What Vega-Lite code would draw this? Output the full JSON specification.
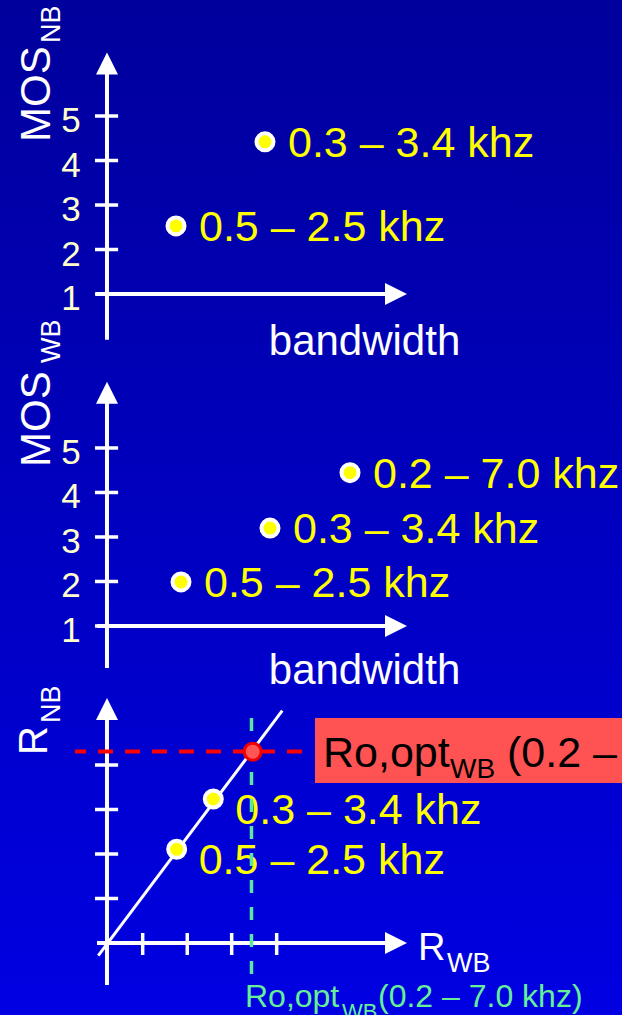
{
  "$schema": "https://vega.github.io/schema/vega-lite/v6.json",
  "width": 622,
  "height": 1015,
  "autosize": {"type": "none"},
  "padding": 0,
  "config": {"view": {"stroke": null}, "font": "Liberation Sans"},
  "resolve": {"scale": {"y": "independent"}},
  "layer": [
    {
      "data": {"values": [{}]},
      "mark": {"type": "rect", "fill": {"gradient": "linear", "x1": 0, "y1": 0, "x2": 0, "y2": 1, "stops": [{"offset": 0, "color": "#00009C"}, {"offset": 1, "color": "#0000E2"}]}},
      "encoding": {"x": {"value": 0}, "x2": {"value": "width"}, "y": {"value": 0}, "y2": {"value": "height"}}
    },
    {
      "layer": [
        {
          "data": {"values": [{"x": 0, "x2": 0, "y": -0.03, "y2": 6.0}, {"x": -0.25, "x2": 6.3, "y": 1, "y2": 1}]},
          "mark": {"type": "rule", "color": "white", "strokeWidth": 4},
          "encoding": {
            "x": {"field": "x", "type": "quantitative", "scale": {"domain": [-2.404, 11.573], "nice": false, "zero": false}, "axis": null},
            "x2": {"field": "x2"},
            "y": {"field": "y", "type": "quantitative", "scale": {"domain": [-15.202, 7.607], "nice": false, "zero": false}, "axis": null},
            "y2": {"field": "y2"}
          }
        },
        {
          "data": {"values": [{"x": -0.27, "x2": 0.25, "y": 1}, {"x": -0.27, "x2": 0.25, "y": 2}, {"x": -0.27, "x2": 0.25, "y": 3}, {"x": -0.27, "x2": 0.25, "y": 4}, {"x": -0.27, "x2": 0.25, "y": 5}]},
          "mark": {"type": "rule", "color": "white", "strokeWidth": 3.5},
          "encoding": {
            "x": {"field": "x", "type": "quantitative", "scale": {"domain": [-2.404, 11.573], "nice": false, "zero": false}, "axis": null},
            "x2": {"field": "x2"},
            "y": {"field": "y", "type": "quantitative", "scale": {"domain": [-15.202, 7.607], "nice": false, "zero": false}, "axis": null}
          }
        },
        {
          "data": {"values": [{"x": 0, "y": 6.18, "dir": "up"}, {"x": 6.494, "y": 1, "dir": "right"}]},
          "mark": {"type": "point", "filled": true, "fill": "white", "opacity": 1, "size": 484, "strokeWidth": 0},
          "encoding": {
            "x": {"field": "x", "type": "quantitative", "scale": {"domain": [-2.404, 11.573], "nice": false, "zero": false}, "axis": null},
            "y": {"field": "y", "type": "quantitative", "scale": {"domain": [-15.202, 7.607], "nice": false, "zero": false}, "axis": null},
            "shape": {"field": "dir", "type": "nominal", "scale": {"domain": ["up", "right"], "range": ["M0,-1L-1,1L1,1Z", "M1,0L-1,-1L-1,1Z"]}, "legend": null}
          }
        },
        {
          "data": {"values": [{"x": -0.809, "y": 1, "label": "1"}, {"x": -0.809, "y": 2, "label": "2"}, {"x": -0.809, "y": 3, "label": "3"}, {"x": -0.809, "y": 4, "label": "4"}, {"x": -0.809, "y": 5, "label": "5"}]},
          "mark": {"type": "text", "fontSize": 35, "color": "#FFFFCC", "align": "center", "baseline": "alphabetic", "dy": 16},
          "encoding": {
            "x": {"field": "x", "type": "quantitative", "scale": {"domain": [-2.404, 11.573], "nice": false, "zero": false}, "axis": null},
            "y": {"field": "y", "type": "quantitative", "scale": {"domain": [-15.202, 7.607], "nice": false, "zero": false}, "axis": null},
            "text": {"field": "label"}
          }
        },
        {
          "data": {"values": [{"x": 1.551, "y": 2.53, "label": "0.5 – 2.5 khz"}, {"x": 3.551, "y": 4.42, "label": "0.3 – 3.4 khz"}]},
          "layer": [
            {"mark": {"type": "circle", "fill": "#FFFF00", "stroke": "white", "strokeWidth": 4, "size": 289, "opacity": 1}},
            {"mark": {"type": "text", "fontSize": 43, "color": "#FFFF00", "align": "left", "baseline": "alphabetic", "dx": 23, "dy": 15}, "encoding": {"text": {"field": "label"}}}
          ],
          "encoding": {
            "x": {"field": "x", "type": "quantitative", "scale": {"domain": [-2.404, 11.573], "nice": false, "zero": false}, "axis": null},
            "y": {"field": "y", "type": "quantitative", "scale": {"domain": [-15.202, 7.607], "nice": false, "zero": false}, "axis": null}
          }
        },
        {
          "data": {"values": [{"x": 5.787, "y": -0.371, "label": "bandwidth"}]},
          "mark": {"type": "text", "fontSize": 42, "color": "white", "align": "center", "baseline": "alphabetic"},
          "encoding": {
            "x": {"field": "x", "type": "quantitative", "scale": {"domain": [-2.404, 11.573], "nice": false, "zero": false}, "axis": null},
            "y": {"field": "y", "type": "quantitative", "scale": {"domain": [-15.202, 7.607], "nice": false, "zero": false}, "axis": null},
            "text": {"field": "label"}
          }
        },
        {
          "data": {"values": [{"x": -1.281, "y": 4.416, "label": "MOS"}]},
          "mark": {"type": "text", "fontSize": 42, "color": "white", "align": "left", "baseline": "alphabetic", "angle": 270},
          "encoding": {
            "x": {"field": "x", "type": "quantitative", "scale": {"domain": [-2.404, 11.573], "nice": false, "zero": false}, "axis": null},
            "y": {"field": "y", "type": "quantitative", "scale": {"domain": [-15.202, 7.607], "nice": false, "zero": false}, "axis": null},
            "text": {"field": "label"}
          }
        },
        {
          "data": {"values": [{"x": -1.056, "y": 6.641, "label": "NB"}]},
          "mark": {"type": "text", "fontSize": 27, "color": "white", "align": "left", "baseline": "alphabetic", "angle": 270},
          "encoding": {
            "x": {"field": "x", "type": "quantitative", "scale": {"domain": [-2.404, 11.573], "nice": false, "zero": false}, "axis": null},
            "y": {"field": "y", "type": "quantitative", "scale": {"domain": [-15.202, 7.607], "nice": false, "zero": false}, "axis": null},
            "text": {"field": "label"}
          }
        }
      ]
    },
    {
      "layer": [
        {
          "data": {"values": [{"x": 0, "x2": 0, "y": 0.056, "y2": 6.1}, {"x": -0.22, "x2": 6.3, "y": 1, "y2": 1}]},
          "mark": {"type": "rule", "color": "white", "strokeWidth": 4},
          "encoding": {
            "x": {"field": "x", "type": "quantitative", "scale": {"domain": [-2.404, 11.573], "nice": false, "zero": false}, "axis": null},
            "x2": {"field": "x2"},
            "y": {"field": "y", "type": "quantitative", "scale": {"domain": [-7.742, 15.067], "nice": false, "zero": false}, "axis": null},
            "y2": {"field": "y2"}
          }
        },
        {
          "data": {"values": [{"x": -0.27, "x2": 0.25, "y": 1}, {"x": -0.27, "x2": 0.25, "y": 2}, {"x": -0.27, "x2": 0.25, "y": 3}, {"x": -0.27, "x2": 0.25, "y": 4}, {"x": -0.27, "x2": 0.25, "y": 5}]},
          "mark": {"type": "rule", "color": "white", "strokeWidth": 3.5},
          "encoding": {
            "x": {"field": "x", "type": "quantitative", "scale": {"domain": [-2.404, 11.573], "nice": false, "zero": false}, "axis": null},
            "x2": {"field": "x2"},
            "y": {"field": "y", "type": "quantitative", "scale": {"domain": [-7.742, 15.067], "nice": false, "zero": false}, "axis": null}
          }
        },
        {
          "data": {"values": [{"x": 0, "y": 6.24, "dir": "up"}, {"x": 6.494, "y": 1, "dir": "right"}]},
          "mark": {"type": "point", "filled": true, "fill": "white", "opacity": 1, "size": 484, "strokeWidth": 0},
          "encoding": {
            "x": {"field": "x", "type": "quantitative", "scale": {"domain": [-2.404, 11.573], "nice": false, "zero": false}, "axis": null},
            "y": {"field": "y", "type": "quantitative", "scale": {"domain": [-7.742, 15.067], "nice": false, "zero": false}, "axis": null},
            "shape": {"field": "dir", "type": "nominal", "scale": {"domain": ["up", "right"], "range": ["M0,-1L-1,1L1,1Z", "M1,0L-1,-1L-1,1Z"]}, "legend": null}
          }
        },
        {
          "data": {"values": [{"x": -0.809, "y": 1, "label": "1"}, {"x": -0.809, "y": 2, "label": "2"}, {"x": -0.809, "y": 3, "label": "3"}, {"x": -0.809, "y": 4, "label": "4"}, {"x": -0.809, "y": 5, "label": "5"}]},
          "mark": {"type": "text", "fontSize": 35, "color": "#FFFFCC", "align": "center", "baseline": "alphabetic", "dy": 16},
          "encoding": {
            "x": {"field": "x", "type": "quantitative", "scale": {"domain": [-2.404, 11.573], "nice": false, "zero": false}, "axis": null},
            "y": {"field": "y", "type": "quantitative", "scale": {"domain": [-7.742, 15.067], "nice": false, "zero": false}, "axis": null},
            "text": {"field": "label"}
          }
        },
        {
          "data": {"values": [{"x": 1.663, "y": 1.99, "label": "0.5 – 2.5 khz"}, {"x": 3.663, "y": 3.2, "label": "0.3 – 3.4 khz"}, {"x": 5.461, "y": 4.445, "label": "0.2 – 7.0 khz"}]},
          "layer": [
            {"mark": {"type": "circle", "fill": "#FFFF00", "stroke": "white", "strokeWidth": 4, "size": 289, "opacity": 1}},
            {"mark": {"type": "text", "fontSize": 43, "color": "#FFFF00", "align": "left", "baseline": "alphabetic", "dx": 23, "dy": 15}, "encoding": {"text": {"field": "label"}}}
          ],
          "encoding": {
            "x": {"field": "x", "type": "quantitative", "scale": {"domain": [-2.404, 11.573], "nice": false, "zero": false}, "axis": null},
            "y": {"field": "y", "type": "quantitative", "scale": {"domain": [-7.742, 15.067], "nice": false, "zero": false}, "axis": null}
          }
        },
        {
          "data": {"values": [{"x": 5.787, "y": -0.304, "label": "bandwidth"}]},
          "mark": {"type": "text", "fontSize": 42, "color": "white", "align": "center", "baseline": "alphabetic"},
          "encoding": {
            "x": {"field": "x", "type": "quantitative", "scale": {"domain": [-2.404, 11.573], "nice": false, "zero": false}, "axis": null},
            "y": {"field": "y", "type": "quantitative", "scale": {"domain": [-7.742, 15.067], "nice": false, "zero": false}, "axis": null},
            "text": {"field": "label"}
          }
        },
        {
          "data": {"values": [{"x": -1.281, "y": 4.573, "label": "MOS"}]},
          "mark": {"type": "text", "fontSize": 42, "color": "white", "align": "left", "baseline": "alphabetic", "angle": 270},
          "encoding": {
            "x": {"field": "x", "type": "quantitative", "scale": {"domain": [-2.404, 11.573], "nice": false, "zero": false}, "axis": null},
            "y": {"field": "y", "type": "quantitative", "scale": {"domain": [-7.742, 15.067], "nice": false, "zero": false}, "axis": null},
            "text": {"field": "label"}
          }
        },
        {
          "data": {"values": [{"x": -1.056, "y": 6.91, "label": "WB"}]},
          "mark": {"type": "text", "fontSize": 27, "color": "white", "align": "left", "baseline": "alphabetic", "angle": 270},
          "encoding": {
            "x": {"field": "x", "type": "quantitative", "scale": {"domain": [-2.404, 11.573], "nice": false, "zero": false}, "axis": null},
            "y": {"field": "y", "type": "quantitative", "scale": {"domain": [-7.742, 15.067], "nice": false, "zero": false}, "axis": null},
            "text": {"field": "label"}
          }
        }
      ]
    },
    {
      "layer": [
        {
          "data": {"values": [{"x": 0, "x2": 0, "y": -0.944, "y2": 5.1}, {"x": -0.225, "x2": 6.3, "y": 0, "y2": 0}]},
          "mark": {"type": "rule", "color": "white", "strokeWidth": 4},
          "encoding": {
            "x": {"field": "x", "type": "quantitative", "scale": {"domain": [-2.404, 11.573], "nice": false, "zero": false}, "axis": null},
            "x2": {"field": "x2"},
            "y": {"field": "y", "type": "quantitative", "scale": {"domain": [-1.618, 21.191], "nice": false, "zero": false}, "axis": null},
            "y2": {"field": "y2"}
          }
        },
        {
          "data": {"values": [
            {"x": -0.27, "x2": 0.25, "y": 1, "y2": 1}, {"x": -0.27, "x2": 0.25, "y": 2, "y2": 2}, {"x": -0.27, "x2": 0.25, "y": 3, "y2": 3}, {"x": -0.27, "x2": 0.25, "y": 4, "y2": 4},
            {"x": 0.802, "x2": 0.802, "y": -0.27, "y2": 0.225}, {"x": 1.804, "x2": 1.804, "y": -0.27, "y2": 0.225}, {"x": 2.802, "x2": 2.802, "y": -0.27, "y2": 0.225}, {"x": 3.813, "x2": 3.813, "y": -0.27, "y2": 0.225}
          ]},
          "mark": {"type": "rule", "color": "white", "strokeWidth": 3.5},
          "encoding": {
            "x": {"field": "x", "type": "quantitative", "scale": {"domain": [-2.404, 11.573], "nice": false, "zero": false}, "axis": null},
            "x2": {"field": "x2"},
            "y": {"field": "y", "type": "quantitative", "scale": {"domain": [-1.618, 21.191], "nice": false, "zero": false}, "axis": null},
            "y2": {"field": "y2"}
          }
        },
        {
          "data": {"values": [{"x": 0, "y": 5.258, "dir": "up"}, {"x": 6.494, "y": 0, "dir": "right"}]},
          "mark": {"type": "point", "filled": true, "fill": "white", "opacity": 1, "size": 484, "strokeWidth": 0},
          "encoding": {
            "x": {"field": "x", "type": "quantitative", "scale": {"domain": [-2.404, 11.573], "nice": false, "zero": false}, "axis": null},
            "y": {"field": "y", "type": "quantitative", "scale": {"domain": [-1.618, 21.191], "nice": false, "zero": false}, "axis": null},
            "shape": {"field": "dir", "type": "nominal", "scale": {"domain": ["up", "right"], "range": ["M0,-1L-1,1L1,1Z", "M1,0L-1,-1L-1,1Z"]}, "legend": null}
          }
        },
        {
          "data": {"values": [{"x": -0.196, "y": -0.285, "x2": 3.939, "y2": 5.22}]},
          "mark": {"type": "rule", "color": "white", "strokeWidth": 3},
          "encoding": {
            "x": {"field": "x", "type": "quantitative", "scale": {"domain": [-2.404, 11.573], "nice": false, "zero": false}, "axis": null},
            "x2": {"field": "x2"},
            "y": {"field": "y", "type": "quantitative", "scale": {"domain": [-1.618, 21.191], "nice": false, "zero": false}, "axis": null},
            "y2": {"field": "y2"}
          }
        },
        {
          "data": {"values": [{"x": -0.719, "x2": 4.382, "y": 4.303, "y2": 4.303}]},
          "mark": {"type": "rule", "color": "#FF0000", "strokeWidth": 4, "strokeDash": [15, 12], "strokeDashOffset": 4},
          "encoding": {
            "x": {"field": "x", "type": "quantitative", "scale": {"domain": [-2.404, 11.573], "nice": false, "zero": false}, "axis": null},
            "x2": {"field": "x2"},
            "y": {"field": "y", "type": "quantitative", "scale": {"domain": [-1.618, 21.191], "nice": false, "zero": false}, "axis": null},
            "y2": {"field": "y2"}
          }
        },
        {
          "data": {"values": [{"x": 1.566, "y": 2.106, "label": "0.5 – 2.5 khz"}, {"x": 2.389, "y": 3.236, "label": "0.3 – 3.4 khz"}]},
          "mark": {"type": "text", "fontSize": 43, "color": "#FFFF00", "align": "left", "baseline": "alphabetic", "dx": 22, "dy": 25},
          "encoding": {
            "x": {"field": "x", "type": "quantitative", "scale": {"domain": [-2.404, 11.573], "nice": false, "zero": false}, "axis": null},
            "y": {"field": "y", "type": "quantitative", "scale": {"domain": [-1.618, 21.191], "nice": false, "zero": false}, "axis": null},
            "text": {"field": "label"}
          }
        },
        {
          "data": {"values": [{"x": 3.247, "x2": 3.247, "y": 5.056, "y2": -0.697}]},
          "mark": {"type": "rule", "color": "#5CE6A0", "strokeWidth": 3.5, "strokeDash": [13, 14]},
          "encoding": {
            "x": {"field": "x", "type": "quantitative", "scale": {"domain": [-2.404, 11.573], "nice": false, "zero": false}, "axis": null},
            "x2": {"field": "x2"},
            "y": {"field": "y", "type": "quantitative", "scale": {"domain": [-1.618, 21.191], "nice": false, "zero": false}, "axis": null},
            "y2": {"field": "y2"}
          }
        },
        {
          "data": {"values": [{"x": 1.566, "y": 2.106}, {"x": 2.389, "y": 3.236}]},
          "mark": {"type": "circle", "fill": "#FFFF00", "stroke": "white", "strokeWidth": 4, "size": 289, "opacity": 1},
          "encoding": {
            "x": {"field": "x", "type": "quantitative", "scale": {"domain": [-2.404, 11.573], "nice": false, "zero": false}, "axis": null},
            "y": {"field": "y", "type": "quantitative", "scale": {"domain": [-1.618, 21.191], "nice": false, "zero": false}, "axis": null}
          }
        },
        {
          "data": {"values": [{"x": 3.274, "y": 4.299}]},
          "mark": {"type": "circle", "fill": "#FF5555", "stroke": "#EE0000", "strokeWidth": 3, "size": 289, "opacity": 1},
          "encoding": {
            "x": {"field": "x", "type": "quantitative", "scale": {"domain": [-2.404, 11.573], "nice": false, "zero": false}, "axis": null},
            "y": {"field": "y", "type": "quantitative", "scale": {"domain": [-1.618, 21.191], "nice": false, "zero": false}, "axis": null}
          }
        },
        {
          "data": {"values": [{"x": 4.674, "x2": 11.573, "y": 5.056, "y2": 3.596}]},
          "mark": {"type": "rect", "fill": "#FF5252", "opacity": 1},
          "encoding": {
            "x": {"field": "x", "type": "quantitative", "scale": {"domain": [-2.404, 11.573], "nice": false, "zero": false}, "axis": null},
            "x2": {"field": "x2"},
            "y": {"field": "y", "type": "quantitative", "scale": {"domain": [-1.618, 21.191], "nice": false, "zero": false}, "axis": null},
            "y2": {"field": "y2"}
          }
        },
        {
          "data": {"values": [{"x": 4.854, "y": 3.955, "label": "Ro,opt"}, {"x": 8.989, "y": 3.955, "label": "(0.2 – 7.0 khz)"}]},
          "mark": {"type": "text", "fontSize": 43, "color": "#000000", "align": "left", "baseline": "alphabetic"},
          "encoding": {
            "x": {"field": "x", "type": "quantitative", "scale": {"domain": [-2.404, 11.573], "nice": false, "zero": false}, "axis": null},
            "y": {"field": "y", "type": "quantitative", "scale": {"domain": [-1.618, 21.191], "nice": false, "zero": false}, "axis": null},
            "text": {"field": "label"}
          }
        },
        {
          "data": {"values": [{"x": 7.708, "y": 3.708, "label": "WB"}]},
          "mark": {"type": "text", "fontSize": 28, "color": "#000000", "align": "left", "baseline": "alphabetic"},
          "encoding": {
            "x": {"field": "x", "type": "quantitative", "scale": {"domain": [-2.404, 11.573], "nice": false, "zero": false}, "axis": null},
            "y": {"field": "y", "type": "quantitative", "scale": {"domain": [-1.618, 21.191], "nice": false, "zero": false}, "axis": null},
            "text": {"field": "label"}
          }
        },
        {
          "data": {"values": [{"x": -1.348, "y": 4.225, "label": "R"}]},
          "mark": {"type": "text", "fontSize": 40, "color": "white", "align": "left", "baseline": "alphabetic", "angle": 270},
          "encoding": {
            "x": {"field": "x", "type": "quantitative", "scale": {"domain": [-2.404, 11.573], "nice": false, "zero": false}, "axis": null},
            "y": {"field": "y", "type": "quantitative", "scale": {"domain": [-1.618, 21.191], "nice": false, "zero": false}, "axis": null},
            "text": {"field": "label"}
          }
        },
        {
          "data": {"values": [{"x": -1.056, "y": 4.944, "label": "NB"}]},
          "mark": {"type": "text", "fontSize": 27, "color": "white", "align": "left", "baseline": "alphabetic", "angle": 270},
          "encoding": {
            "x": {"field": "x", "type": "quantitative", "scale": {"domain": [-2.404, 11.573], "nice": false, "zero": false}, "axis": null},
            "y": {"field": "y", "type": "quantitative", "scale": {"domain": [-1.618, 21.191], "nice": false, "zero": false}, "axis": null},
            "text": {"field": "label"}
          }
        },
        {
          "data": {"values": [{"x": 6.989, "y": -0.382, "label": "R"}]},
          "mark": {"type": "text", "fontSize": 38, "color": "white", "align": "left", "baseline": "alphabetic"},
          "encoding": {
            "x": {"field": "x", "type": "quantitative", "scale": {"domain": [-2.404, 11.573], "nice": false, "zero": false}, "axis": null},
            "y": {"field": "y", "type": "quantitative", "scale": {"domain": [-1.618, 21.191], "nice": false, "zero": false}, "axis": null},
            "text": {"field": "label"}
          }
        },
        {
          "data": {"values": [{"x": 7.64, "y": -0.652, "label": "WB"}]},
          "mark": {"type": "text", "fontSize": 27, "color": "white", "align": "left", "baseline": "alphabetic"},
          "encoding": {
            "x": {"field": "x", "type": "quantitative", "scale": {"domain": [-2.404, 11.573], "nice": false, "zero": false}, "axis": null},
            "y": {"field": "y", "type": "quantitative", "scale": {"domain": [-1.618, 21.191], "nice": false, "zero": false}, "axis": null},
            "text": {"field": "label"}
          }
        },
        {
          "data": {"values": [{"x": 3.101, "y": -1.438, "label": "Ro,opt"}, {"x": 6.09, "y": -1.438, "label": "(0.2 – 7.0 khz)"}]},
          "mark": {"type": "text", "fontSize": 32, "color": "#66EE99", "align": "left", "baseline": "alphabetic"},
          "encoding": {
            "x": {"field": "x", "type": "quantitative", "scale": {"domain": [-2.404, 11.573], "nice": false, "zero": false}, "axis": null},
            "y": {"field": "y", "type": "quantitative", "scale": {"domain": [-1.618, 21.191], "nice": false, "zero": false}, "axis": null},
            "text": {"field": "label"}
          }
        },
        {
          "data": {"values": [{"x": 5.281, "y": -1.708, "label": "WB"}]},
          "mark": {"type": "text", "fontSize": 22, "color": "#66EE99", "align": "left", "baseline": "alphabetic"},
          "encoding": {
            "x": {"field": "x", "type": "quantitative", "scale": {"domain": [-2.404, 11.573], "nice": false, "zero": false}, "axis": null},
            "y": {"field": "y", "type": "quantitative", "scale": {"domain": [-1.618, 21.191], "nice": false, "zero": false}, "axis": null},
            "text": {"field": "label"}
          }
        }
      ]
    }
  ]
}
